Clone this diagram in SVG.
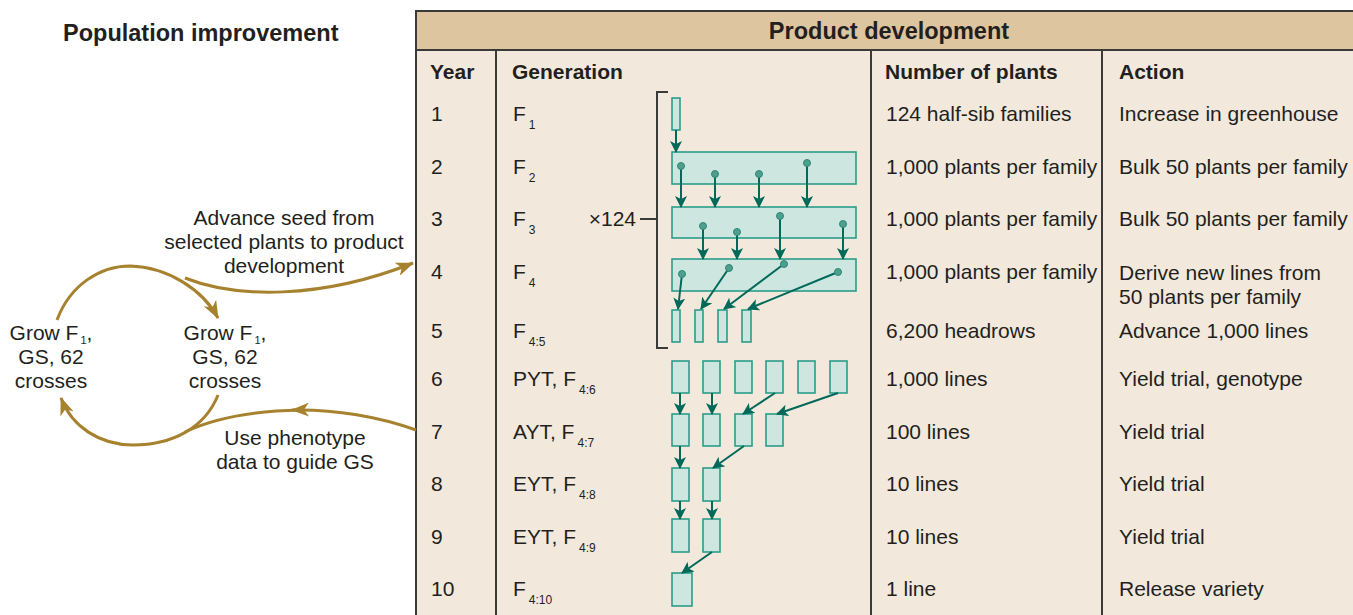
<svg xmlns="http://www.w3.org/2000/svg" width="1353" height="615" viewBox="0 0 1353 615">
<defs>
<style>
text{font-family:"Liberation Sans",Arial,Helvetica,sans-serif;fill:#231f20;font-size:21px}
.b{font-weight:bold}
.t{font-size:23.5px;font-weight:bold}
.s{font-size:12px}
.s2{font-size:11px}
.m{text-anchor:middle}
.grid{stroke:#3c3a38;stroke-width:2;fill:none}
.bg{fill:#f2e9dc;stroke:#3c3a38;stroke-width:2}
.hd{fill:#dcc59f;stroke:#3c3a38;stroke-width:2}
.box{fill:#cde6df;stroke:#2a9d8a;stroke-width:1.6}
.ta{stroke:#00695a;stroke-width:2;fill:none;marker-end:url(#ah)}
.dot{fill:#4f9e8e;stroke:#2f8777;stroke-width:1}
.gold{stroke:#a6822e;stroke-width:3;fill:none}
.ga{marker-end:url(#gh)}
</style>
<marker id="ah" viewBox="0 0 12 12" refX="11" refY="6" markerWidth="12" markerHeight="12" markerUnits="userSpaceOnUse" orient="auto">
<path d="M0,0 L12,6 L0,12 L3,6 z" fill="#00695a"/>
</marker>
<marker id="gh" viewBox="0 0 18 14" refX="17" refY="7" markerWidth="18" markerHeight="14" markerUnits="userSpaceOnUse" orient="auto">
<path d="M0,0 L18,7 L0,14 L5,7 z" fill="#a6822e"/>
</marker>
</defs>
<rect width="1353" height="615" fill="#ffffff"/>

<g id="table">
<rect x="416" y="11" width="940" height="610" class="bg"/>
<rect x="416" y="11" width="940" height="39" class="hd"/>
<line x1="496" y1="50" x2="496" y2="615" class="grid"/>
<line x1="871" y1="50" x2="871" y2="615" class="grid"/>
<line x1="1102" y1="50" x2="1102" y2="615" class="grid"/>
<text x="889" y="39" class="t m">Product development</text>
<text x="430" y="79" class="b">Year</text>
<text x="512" y="79" class="b">Generation</text>
<text x="885" y="79" class="b">Number of plants</text>
<text x="1119" y="79" class="b">Action</text>
</g>

<g id="years">
<text x="431" y="121">1</text>
<text x="431" y="174">2</text>
<text x="431" y="226">3</text>
<text x="431" y="279">4</text>
<text x="431" y="338">5</text>
<text x="431" y="386">6</text>
<text x="431" y="439">7</text>
<text x="431" y="491">8</text>
<text x="431" y="544">9</text>
<text x="431" y="596">10</text>
</g>

<g id="generations">
<text x="513" y="121">F<tspan class="s" dx="3" dy="8">1</tspan></text>
<text x="513" y="174">F<tspan class="s" dx="3" dy="8">2</tspan></text>
<text x="513" y="226">F<tspan class="s" dx="3" dy="8">3</tspan></text>
<text x="513" y="279">F<tspan class="s" dx="3" dy="8">4</tspan></text>
<text x="513" y="338">F<tspan class="s" dx="3" dy="8">4:5</tspan></text>
<text x="513" y="386">PYT, F<tspan class="s" dx="3" dy="8">4:6</tspan></text>
<text x="513" y="439">AYT, F<tspan class="s" dx="3" dy="8">4:7</tspan></text>
<text x="513" y="491">EYT, F<tspan class="s" dx="3" dy="8">4:8</tspan></text>
<text x="513" y="544">EYT, F<tspan class="s" dx="3" dy="8">4:9</tspan></text>
<text x="513" y="596">F<tspan class="s" dx="3" dy="8">4:10</tspan></text>
</g>

<g id="plants">
<text x="886" y="121">124 half-sib families</text>
<text x="886" y="174">1,000 plants per family</text>
<text x="886" y="226">1,000 plants per family</text>
<text x="886" y="279">1,000 plants per family</text>
<text x="886" y="338">6,200 headrows</text>
<text x="886" y="386">1,000 lines</text>
<text x="886" y="439">100 lines</text>
<text x="886" y="491">10 lines</text>
<text x="886" y="544">10 lines</text>
<text x="886" y="596">1 line</text>
</g>

<g id="actions">
<text x="1119" y="121">Increase in greenhouse</text>
<text x="1119" y="174">Bulk 50 plants per family</text>
<text x="1119" y="226">Bulk 50 plants per family</text>
<text x="1119" y="280">Derive new lines from</text>
<text x="1119" y="304">50 plants per family</text>
<text x="1119" y="338">Advance 1,000 lines</text>
<text x="1119" y="386">Yield trial, genotype</text>
<text x="1119" y="439">Yield trial</text>
<text x="1119" y="491">Yield trial</text>
<text x="1119" y="544">Yield trial</text>
<text x="1119" y="596">Release variety</text>
</g>

<g id="bracket">
<path d="M668,92 H657 V348 H668" class="grid" stroke-width="1.6"/>
<line x1="640" y1="219" x2="657" y2="219" class="grid" stroke-width="1.6"/>
<text x="636" y="226" style="text-anchor:end">×124</text>
</g>

<g id="boxes">
<rect x="672" y="98" width="8" height="32" class="box"/>
<rect x="672" y="152" width="184" height="32" class="box"/>
<rect x="672" y="207" width="184" height="31" class="box"/>
<rect x="672" y="259" width="184" height="32" class="box"/>
<rect x="672" y="310" width="8" height="32" class="box"/>
<rect x="695" y="310" width="8" height="32" class="box"/>
<rect x="718" y="310" width="9" height="32" class="box"/>
<rect x="742" y="310" width="9" height="32" class="box"/>
<rect x="672" y="361" width="17" height="32" class="box"/>
<rect x="703" y="361" width="17" height="32" class="box"/>
<rect x="735" y="361" width="17" height="32" class="box"/>
<rect x="766" y="361" width="17" height="32" class="box"/>
<rect x="798" y="361" width="17" height="32" class="box"/>
<rect x="830" y="361" width="17" height="32" class="box"/>
<rect x="672" y="414" width="17" height="32" class="box"/>
<rect x="703" y="414" width="17" height="32" class="box"/>
<rect x="735" y="414" width="17" height="32" class="box"/>
<rect x="766" y="414" width="17" height="32" class="box"/>
<rect x="672" y="468" width="17" height="33" class="box"/>
<rect x="703" y="468" width="17" height="33" class="box"/>
<rect x="672" y="519" width="17" height="33" class="box"/>
<rect x="703" y="519" width="17" height="33" class="box"/>
<rect x="672" y="573" width="20" height="33" class="box"/>
</g>

<g id="connectors">
<path d="M676,130 V152" class="ta"/>
<path d="M681,166 V207" class="ta"/>
<path d="M715,174 V207" class="ta"/>
<path d="M759,174 V207" class="ta"/>
<path d="M807,163 V207" class="ta"/>
<path d="M703,226 V259" class="ta"/>
<path d="M737,232 V259" class="ta"/>
<path d="M780,216 V259" class="ta"/>
<path d="M843,224 V259" class="ta"/>
<path d="M682,274 L678,309" class="ta"/>
<path d="M729,268 L701,309" class="ta"/>
<path d="M784,264 L724,309" class="ta"/>
<path d="M838,272 L748,309" class="ta"/>
<circle cx="681" cy="166" r="3.5" class="dot"/>
<circle cx="715" cy="174" r="3.5" class="dot"/>
<circle cx="759" cy="174" r="3.5" class="dot"/>
<circle cx="807" cy="163" r="3.5" class="dot"/>
<circle cx="703" cy="226" r="3.5" class="dot"/>
<circle cx="737" cy="232" r="3.5" class="dot"/>
<circle cx="780" cy="216" r="3.5" class="dot"/>
<circle cx="843" cy="224" r="3.5" class="dot"/>
<circle cx="682" cy="274" r="3.5" class="dot"/>
<circle cx="729" cy="268" r="3.5" class="dot"/>
<circle cx="784" cy="264" r="3.5" class="dot"/>
<circle cx="838" cy="272" r="3.5" class="dot"/>
<path d="M680,393 V414" class="ta"/>
<path d="M712,393 V414" class="ta"/>
<path d="M775,393 L743,414" class="ta"/>
<path d="M838,393 L777,414" class="ta"/>
<path d="M680,446 V468" class="ta"/>
<path d="M744,446 L713,468" class="ta"/>
<path d="M680,501 V519" class="ta"/>
<path d="M712,501 V519" class="ta"/>
<path d="M712,552 L682,573" class="ta"/>

<path d="M57,320 C70,285 100,266 130,266 C168,267 203,290 218,318" class="gold ga"/>
<path d="M185,278 C235,298 320,300 413,263" class="gold ga"/>
<path d="M218,395 C205,428 172,445 133,445 C100,445 72,427 61,398" class="gold ga"/>
<path d="M416,430 C380,417 335,409 292,410" class="gold ga"/>
<path d="M300,410 C255,411 215,418 185,432" class="gold"/>
</g>

<g id="population">
<text x="63" y="41" class="t">Population improvement</text>
<text x="51" y="340" class="m">Grow F<tspan class="s2" dx="2" dy="4">1</tspan><tspan dy="-4">,</tspan></text>
<text x="51" y="364" class="m">GS, 62</text>
<text x="51" y="388" class="m">crosses</text>
<text x="225" y="340" class="m">Grow F<tspan class="s2" dx="2" dy="4">1</tspan><tspan dy="-4">,</tspan></text>
<text x="225" y="364" class="m">GS, 62</text>
<text x="225" y="388" class="m">crosses</text>
<text x="284" y="225" class="m">Advance seed from</text>
<text x="284" y="249" class="m">selected plants to product</text>
<text x="284" y="273" class="m">development</text>
<text x="295" y="445" class="m">Use phenotype</text>
<text x="295" y="469" class="m">data to guide GS</text>
</g>
</svg>
